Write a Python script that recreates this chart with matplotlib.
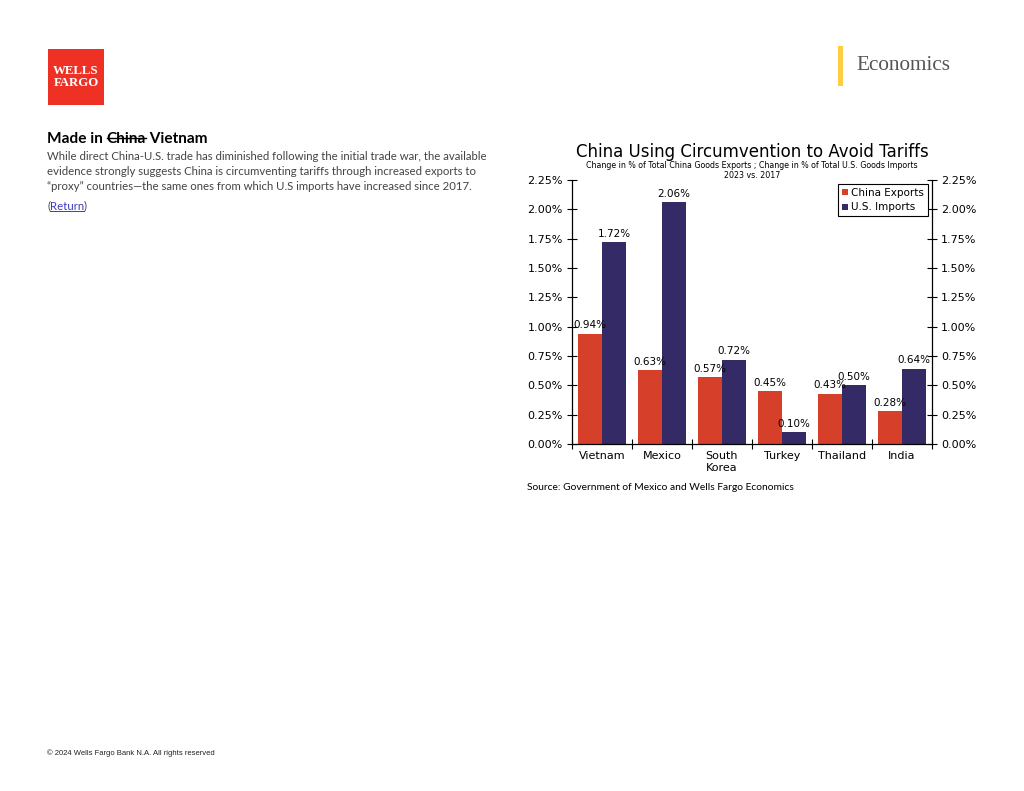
import numpy as np
import matplotlib.pyplot as plt
from matplotlib.patches import Rectangle
from matplotlib.lines import Line2D

countries = ['Vietnam', 'Mexico', 'South\nKorea', 'Turkey', 'Thailand', 'India']
china_exports = [0.94, 0.63, 0.57, 0.45, 0.43, 0.28]
us_imports = [1.72, 2.06, 0.72, 0.10, 0.50, 0.64]
y_ticks = [0.0, 0.25, 0.5, 0.75, 1.0, 1.25, 1.5, 1.75, 2.0, 2.25]

RED = '#d63f29'
NAVY = '#332a66'
W, H = 1024, 791

fig = plt.figure(figsize=(W / 100, H / 100), dpi=100)
fig.patch.set_facecolor('white')


def fx(px):
    return px / W


def fy(py):
    return 1 - py / H


# logo
fig.patches.append(Rectangle((fx(48), fy(105)), fx(56), 56 / H, transform=fig.transFigure,
                             facecolor='#ee3124', edgecolor='none'))
fig.text(fx(76), fy(77), 'WELLS\nFARGO', color='white', fontsize=9.3, fontweight='bold',
         family='Liberation Serif', ha='center', va='center', linespacing=0.95)

# header right
fig.patches.append(Rectangle((fx(838), fy(86)), fx(5), 40 / H, transform=fig.transFigure,
                             facecolor='#ffcd41', edgecolor='none'))
fig.text(fx(856), fy(65), 'Economics', color='#555555', fontsize=15.3,
         family='Liberation Serif', ha='left', va='center')

# heading with strike-through
renderer = fig.canvas.get_renderer()
x0 = fx(47)
t1 = fig.text(x0, fy(139), 'Made in ', fontsize=11.1, fontweight='bold', family='Lato',
              va='center', color='black')
bb = t1.get_window_extent(renderer)
t2 = fig.text(bb.x1 / W, fy(139), 'China', fontsize=11.1, fontweight='bold', family='Lato',
              va='center', color='black')
bb2 = t2.get_window_extent(renderer)
fig.lines.append(Line2D([bb2.x0 / W, bb2.x1 / W], [fy(137.5), fy(137.5)],
                        transform=fig.transFigure, color='black', lw=1.0))
fig.text(bb2.x1 / W, fy(139), ' Vietnam', fontsize=11.1, fontweight='bold', family='Lato',
         va='center', color='black')

body = ("While direct China-U.S. trade has diminished following the initial trade war, the available\n"
        "evidence strongly suggests China is circumventing tariffs through increased exports to\n"
        "\u201cproxy\u201d countries\u2014the same ones from which U.S imports have increased since 2017.")
fig.text(x0, fy(151), body, fontsize=8.2, family='Lato', color='#444444', va='top',
         linespacing=1.45)

tr = fig.text(x0, fy(206), '(', fontsize=8.2, family='Lato', color='#444444', va='center')
bb = tr.get_window_extent(renderer)
tr2 = fig.text(bb.x1 / W, fy(206), 'Return', fontsize=8.2, family='Lato', color='#3b3bbf',
               va='center')
bb2 = tr2.get_window_extent(renderer)
fig.lines.append(Line2D([bb2.x0 / W, bb2.x1 / W], [fy(211), fy(211)], transform=fig.transFigure,
                        color='#3b3bbf', lw=0.7))
fig.text(bb2.x1 / W, fy(206), ')', fontsize=8.2, family='Lato', color='#444444', va='center')

fig.text(x0, fy(753), '\u00a9 2024 Wells Fargo Bank N.A. All rights reserved', fontsize=5.5,
         family='Liberation Sans', color='#222222', va='center')

# chart
ax = fig.add_axes([fx(572), fy(444), fx(932) - fx(572), (444 - 180) / H])
x = np.arange(len(countries))
bw = 0.4
ax.bar(x - bw / 2, china_exports, bw, color=RED, label='China Exports')
ax.bar(x + bw / 2, us_imports, bw, color=NAVY, label='U.S. Imports')

for xi, v in zip(x, china_exports):
    ax.text(xi - bw / 2, v + 0.03, f'{v:.2f}%', ha='center', va='bottom', fontsize=7.5,
            family='DejaVu Sans')
for xi, v in zip(x, us_imports):
    ax.text(xi + bw / 2, v + 0.03, f'{v:.2f}%', ha='center', va='bottom', fontsize=7.5,
            family='DejaVu Sans')

ax.set_xlim(-0.5, len(countries) - 0.5)
ax.set_ylim(0, 2.25)
ax.set_yticks(y_ticks)
ax.set_yticklabels([f'{t:.2f}%' for t in y_ticks], fontsize=8)
ax.set_xticks(np.arange(len(countries) + 1) - 0.5)
ax.set_xticklabels([])
ax.set_xticks(x, minor=True)
ax.set_xticklabels(countries, minor=True, fontsize=8)
ax.tick_params(axis='x', which='minor', length=0, pad=5)
ax.tick_params(axis='x', which='major', direction='inout', length=7, width=0.8)
ax.tick_params(axis='y', direction='inout', length=7, width=0.8, right=True, labelright=True,
               pad=3)
ax.spines['top'].set_visible(False)
for s in ['left', 'right', 'bottom']:
    ax.spines[s].set_linewidth(0.9)

leg = ax.legend(loc='upper right', fontsize=7.5, handlelength=0.6, handleheight=0.6,
                handletextpad=0.3, borderpad=0.35, labelspacing=0.45, fancybox=False,
                framealpha=1, edgecolor='black', borderaxespad=0.4)
leg.get_frame().set_linewidth(0.8)

fig.text(fx(752), fy(152), 'China Using Circumvention to Avoid Tariffs', fontsize=12,
         ha='center', va='center', family='DejaVu Sans')
fig.text(fx(752), fy(170.5), 'Change in % of Total China Goods Exports ; Change in % of Total U.S. Goods Imports\n2023 vs. 2017',
         fontsize=5.65, ha='center', va='center', family='DejaVu Sans', linespacing=1.15)

fig.text(fx(527), fy(487), 'Source: Government of Mexico and Wells Fargo Economics', fontsize=7.35,
         family='Lato', color='black', va='center')

fig.savefig('out.png', dpi=100)
